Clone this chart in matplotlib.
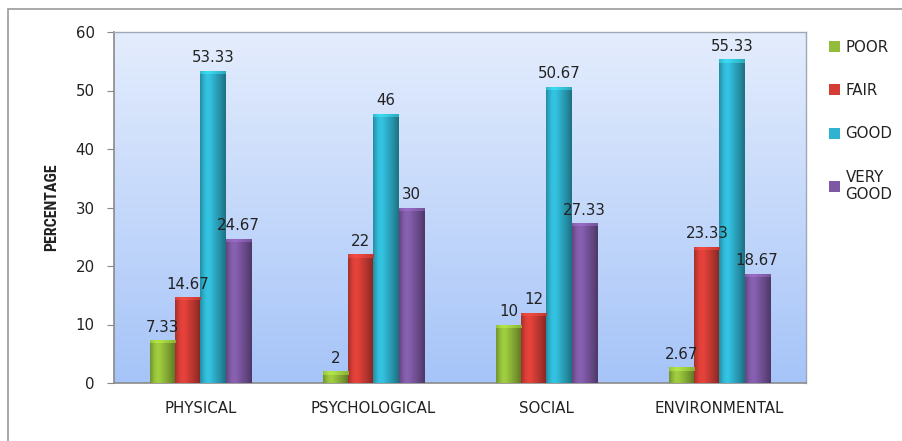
import numpy as np
import matplotlib
matplotlib.use("Agg")
import matplotlib.pyplot as plt
from matplotlib import font_manager
from matplotlib.colors import to_rgb
from matplotlib.patches import Rectangle, Patch

categories = ["PHYSICAL", "PSYCHOLOGICAL", "SOCIAL", "ENVIRONMENTAL"]
series_names = ["POOR", "FAIR", "GOOD", "VERY\nGOOD"]
poor = [7.33, 2, 10, 2.67]
fair = [14.67, 22, 12, 23.33]
good = [53.33, 46, 50.67, 55.33]
very_good = [24.67, 30, 27.33, 18.67]
value_labels = [["7.33", "2", "10", "2.67"],
                ["14.67", "22", "12", "23.33"],
                ["53.33", "46", "50.67", "55.33"],
                ["24.67", "30", "27.33", "18.67"]]
yticks = [0, 10, 20, 30, 40, 50, 60]
colors = ["#92bc3a", "#d33d36", "#2fb3cf", "#7d58a3"]

series = [poor, fair, good, very_good]

available = {f.name for f in font_manager.fontManager.ttflist}
narrow = None
for cand in ["Liberation Sans Narrow", "DejaVu Sans Condensed", "Roboto Condensed",
             "Open Sans Condensed"]:
    if cand in available:
        narrow = cand
        break

fig = plt.figure(figsize=(9.03, 4.41), dpi=100)
fig.patch.set_facecolor("white")
fig.add_artist(Rectangle((8/903, -0.05), 1.2, 1 - 9/441 + 0.05,
                         transform=fig.transFigure, fill=False,
                         edgecolor="#9a9a9a", linewidth=1.2))

ax = fig.add_axes([114/903, 1 - 383/441, (806 - 114)/903, (383 - 32)/441])

top = np.array(to_rgb("#e4edfd"))
bot = np.array(to_rgb("#a6c4f8"))
t = np.linspace(0, 1, 256)[:, None]
grad = top * (1 - t) + bot * t
ax.imshow(grad[:, None, :].repeat(2, axis=1), extent=(0, 1, 0, 1),
          transform=ax.transAxes, aspect="auto", zorder=0)

n = len(categories)
x = np.arange(n)
w = 0.145
offsets = (np.arange(4) - 1.5) * w

prof = np.array([0.78, 0.93, 1.05, 1.10, 1.07, 1.0, 0.93, 0.86, 0.79, 0.71, 0.62])
pi = np.interp(np.linspace(0, 1, 64), np.linspace(0, 1, len(prof)), prof)

TXT = "#222222"
FS = 10.8

for i, (vals, col) in enumerate(zip(series, colors)):
    bars = ax.bar(x + offsets[i], vals, width=w, color=col, zorder=2,
                  edgecolor="none")
    c = np.array(to_rgb(col))
    img = np.clip(c[None, :] * pi[:, None], 0, 1)[None, :, :]
    cap = np.clip(c[None, :] * 0.55 + 0.45 * np.clip(c * 1.35, 0, 1)[None, :]
                  * pi[:, None], 0, 1)[None, :, :]
    for b, lab in zip(bars, value_labels[i]):
        x0, y0 = b.get_x(), b.get_y()
        bw, bh = b.get_width(), b.get_height()
        im = ax.imshow(img, extent=(x0, x0 + bw, y0, y0 + bh), aspect="auto",
                       zorder=3, interpolation="bilinear")
        im.set_clip_path(b)
        cap_h = min(0.55, bh)
        im2 = ax.imshow(cap, extent=(x0, x0 + bw, y0 + bh - cap_h, y0 + bh),
                        aspect="auto", zorder=4, interpolation="bilinear")
        im2.set_clip_path(b)
        ax.annotate(lab, (x0 + bw / 2, y0 + bh), xytext=(0, 4),
                    textcoords="offset points", ha="center", va="bottom",
                    fontsize=FS, color=TXT, zorder=5)

ax.set_xlim(-0.5, n - 0.5)
ax.set_ylim(0, 60)
ax.set_yticks(yticks)
ax.set_yticklabels([str(v) for v in yticks], fontsize=FS, color=TXT)
ax.set_xticks(x)
ax.set_xticklabels(categories, fontsize=FS, color=TXT)
ax.tick_params(axis="x", length=0, pad=13)
ax.tick_params(axis="y", length=5, color="#888888", pad=9)
for s in ["left", "bottom"]:
    ax.spines[s].set_color("#8a8a8a")
    ax.spines[s].set_linewidth(1.2)
for s in ["top", "right"]:
    ax.spines[s].set_color("#a0a8b8")
    ax.spines[s].set_linewidth(1.0)

if narrow is not None:
    ax.set_ylabel("PERCENTAGE", fontsize=11.5, fontweight="bold",
                  family=[narrow, "DejaVu Sans"], color=TXT, labelpad=12)
else:
    ax.set_ylabel("PERCENTAGE", fontsize=8.2, fontweight="bold",
                  color=TXT, labelpad=16)

handles = [Patch(facecolor=c, edgecolor="none") for c in colors]
fig.legend(handles, series_names, loc="upper left",
           bbox_to_anchor=(823/903, 1 - 34/441), frameon=False,
           fontsize=FS, handlelength=0.75, handleheight=0.75,
           handletextpad=0.35, labelspacing=1.88, borderaxespad=0,
           labelcolor=TXT)

fig.savefig("out.png", dpi=100)
